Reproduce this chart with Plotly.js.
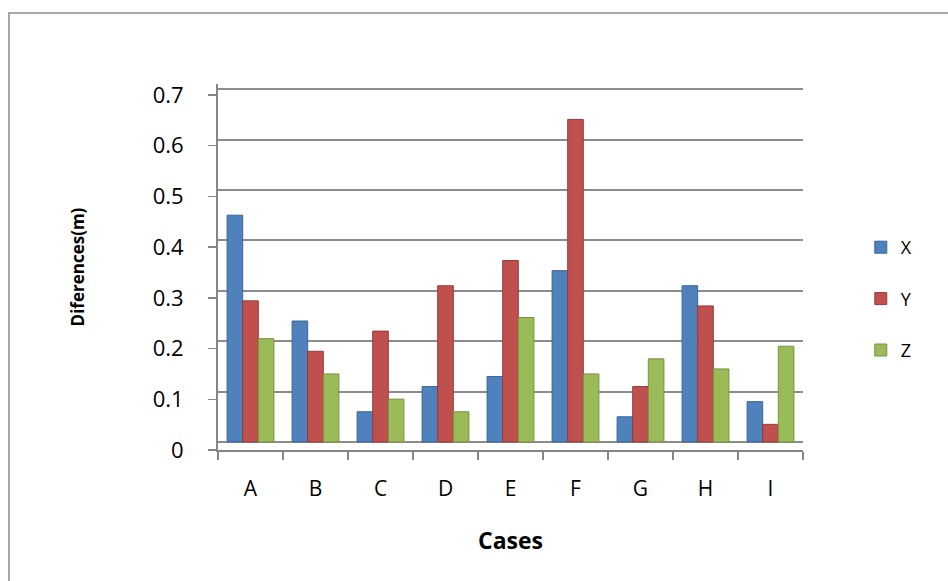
<!DOCTYPE html>
<html>
<head>
<meta charset="utf-8">
<script src="https://cdn.plot.ly/plotly-3.0.1.min.js"></script>
<style>
  html, body { margin: 0; padding: 0; background: #fff; overflow: hidden; }
  #frame { position: absolute; left: 8px; top: 12px; width: 1000px; height: 700px; border: 2px solid #a8a8a8; box-sizing: border-box; }
  #chart { position: absolute; left: 0; top: 0; width: 948px; height: 581px; }
</style>
</head>
<body>
<div id="frame"></div>
<div id="chart"></div>
<script>
const categories = ["A", "B", "C", "D", "E", "F", "G", "H", "I"];
const seriesX = [0.45, 0.24, 0.06, 0.11, 0.13, 0.34, 0.05, 0.31, 0.08];
const seriesY = [0.28, 0.18, 0.22, 0.31, 0.36, 0.64, 0.11, 0.27, 0.035];
const seriesZ = [0.205, 0.135, 0.085, 0.06, 0.247, 0.135, 0.165, 0.145, 0.19];
const yTickVals = [0, 0.1, 0.2, 0.3, 0.4, 0.5, 0.6, 0.7];
const yTickText = ["0", "0.1", "0.2", "0.3", "0.4", "0.5", "0.6", "0.7"];

const FONT = '"Open Sans", "Noto Sans", sans-serif';

function bar(name, vals, fill, edge, grp) {
  return {
    type: 'bar', name: name, x: categories, y: vals,
    xaxis: 'x', yaxis: 'y', legendgroup: grp,
    marker: { color: fill, line: { color: edge, width: 1 } },
    hoverinfo: 'x+y+name'
  };
}

const data = [
  bar('X', seriesX, '#4F81BD', '#3A6596', 'g1'),
  bar('Y', seriesY, '#C0504D', '#953B39', 'g2'),
  bar('Z', seriesZ, '#9BBB59', '#77923F', 'g3'),
  // empty helper so the front (labelled) value axis is drawn
  { type: 'scatter', x: [], y: [], xaxis: 'x', yaxis: 'y2', showlegend: false, hoverinfo: 'skip' }
];

const layout = {
  width: 948, height: 581,
  paper_bgcolor: 'rgba(0,0,0,0)', plot_bgcolor: 'rgba(0,0,0,0)',
  margin: { l: 218, r: 145, t: 84, b: 131 },
  font: { family: FONT, color: '#000' },
  barmode: 'group', bargap: 0.28, bargroupgap: 0,
  showlegend: true,
  legend: {
    xref: 'container', yref: 'container',
    x: 0.908, xanchor: 'left', y: 1 - 229 / 581, yanchor: 'top',
    traceorder: 'grouped', tracegroupgap: 25,
    font: { family: FONT, size: 18, color: '#000' },
    bgcolor: 'rgba(0,0,0,0)'
  },
  xaxis: {
    type: 'category', tickson: 'boundaries', ticks: 'outside', ticklen: 8,
    tickcolor: '#868686', tickwidth: 1.5,
    showline: true, linecolor: '#868686', linewidth: 2,
    showgrid: false, zeroline: false,
    tickfont: { family: FONT, size: 21, color: '#000' },
    ticklabelstandoff: 19,
    title: { text: '<b>Cases</b>', font: { family: FONT, size: 23, color: '#000' }, standoff: 32 }
  },
  yaxis: {
    range: [-0.0159, 0.7103], tickvals: yTickVals,
    showticklabels: false, ticks: '',
    showgrid: true, gridcolor: '#8c8c8c', gridwidth: 2,
    zeroline: false, showline: false
  },
  yaxis2: {
    overlaying: 'y', side: 'left', anchor: 'x',
    range: [0, 0.7217], tickvals: yTickVals, ticktext: yTickText,
    showgrid: false, zeroline: false,
    showline: true, linecolor: '#868686', linewidth: 2,
    ticks: 'outside', ticklen: 8, tickcolor: '#868686', tickwidth: 1.5,
    tickfont: { family: FONT, size: 22, color: '#000' },
    ticklabelstandoff: 20,
    title: { text: '<b>Diferences(m)</b>', font: { family: FONT, size: 17, color: '#000' }, standoff: 64 }
  }
};

Plotly.newPlot('chart', data, layout, { displayModeBar: false, staticPlot: true });
</script>
</body>
</html>
